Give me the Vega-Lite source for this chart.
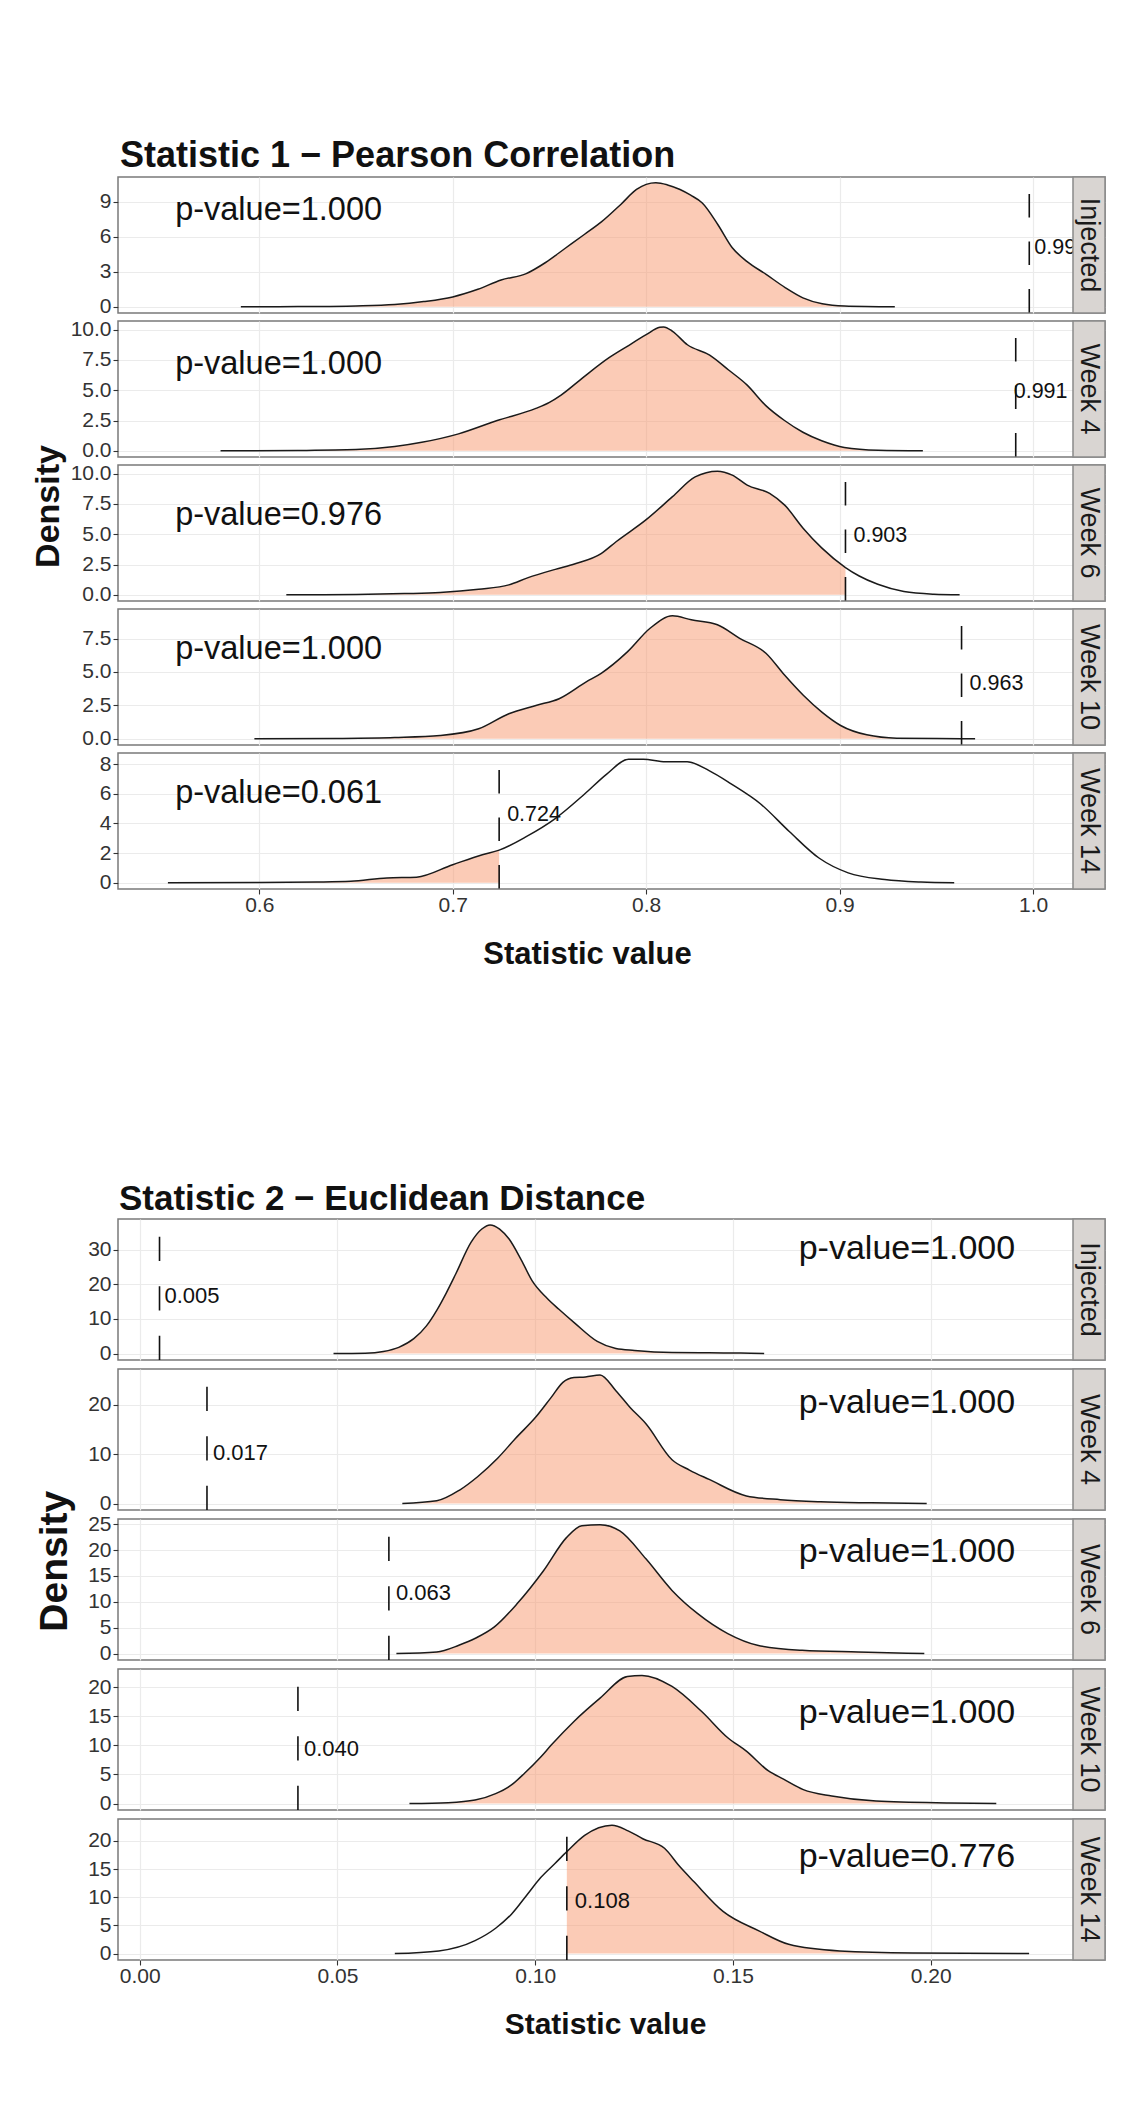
{
"$schema": "https://vega.github.io/schema/vega-lite/v6.json",
"background": "#ffffff",
"padding": {"left": 30, "top": 138, "right": 5, "bottom": 5},
"datasets": {
"ann": [
{"panel":"S1I","strip":"Injected","obs":0.998,"obs_label":"0.998","ptext":"p-value=1.000","p_x":0.61,"p_y":8.27},
{"panel":"S1W4","strip":"Week 4","obs":0.991,"obs_label":"0.991","ptext":"p-value=1.000","p_x":0.61,"p_y":7.15},
{"panel":"S1W6","strip":"Week 6","obs":0.903,"obs_label":"0.903","ptext":"p-value=0.976","p_x":0.61,"p_y":6.6},
{"panel":"S1W10","strip":"Week 10","obs":0.963,"obs_label":"0.963","ptext":"p-value=1.000","p_x":0.61,"p_y":6.7},
{"panel":"S1W14","strip":"Week 14","obs":0.724,"obs_label":"0.724","ptext":"p-value=0.061","p_x":0.61,"p_y":6.06},
{"panel":"S2I","strip":"Injected","obs":0.005,"obs_label":"0.005","ptext":"p-value=1.000","p_x":0.194,"p_y":30.1},
{"panel":"S2W4","strip":"Week 4","obs":0.017,"obs_label":"0.017","ptext":"p-value=1.000","p_x":0.194,"p_y":20.4},
{"panel":"S2W6","strip":"Week 6","obs":0.063,"obs_label":"0.063","ptext":"p-value=1.000","p_x":0.194,"p_y":19.7},
{"panel":"S2W10","strip":"Week 10","obs":0.040,"obs_label":"0.040","ptext":"p-value=1.000","p_x":0.194,"p_y":15.5},
{"panel":"S2W14","strip":"Week 14","obs":0.108,"obs_label":"0.108","ptext":"p-value=0.776","p_x":0.194,"p_y":17.2}
],
"curves": [
{"panel":"S1I","x":0.5905,"y":0},{"panel":"S1I","x":0.62,"y":0.02},{"panel":"S1I","x":0.65,"y":0.08},{"panel":"S1I","x":0.67,"y":0.2},{"panel":"S1I","x":0.685,"y":0.45},{"panel":"S1I","x":0.70,"y":0.85},{"panel":"S1I","x":0.713,"y":1.5},{"panel":"S1I","x":0.725,"y":2.3},{"panel":"S1I","x":0.738,"y":2.85},{"panel":"S1I","x":0.748,"y":3.8},{"panel":"S1I","x":0.758,"y":5.0},{"panel":"S1I","x":0.768,"y":6.2},{"panel":"S1I","x":0.777,"y":7.3},{"panel":"S1I","x":0.787,"y":8.8},{"panel":"S1I","x":0.795,"y":10.06},{"panel":"S1I","x":0.800,"y":10.5},{"panel":"S1I","x":0.805,"y":10.63},{"panel":"S1I","x":0.811,"y":10.45},{"panel":"S1I","x":0.8175,"y":10.06},{"panel":"S1I","x":0.823,"y":9.57},{"panel":"S1I","x":0.829,"y":8.9},{"panel":"S1I","x":0.837,"y":7.06},{"panel":"S1I","x":0.8445,"y":5.06},{"panel":"S1I","x":0.852,"y":3.9},{"panel":"S1I","x":0.862,"y":2.78},{"panel":"S1I","x":0.872,"y":1.63},{"panel":"S1I","x":0.881,"y":0.77},{"panel":"S1I","x":0.891,"y":0.26},{"panel":"S1I","x":0.9025,"y":0.07},{"panel":"S1I","x":0.9285,"y":0},
{"panel":"S1W4","x":0.580,"y":0},{"panel":"S1W4","x":0.62,"y":0.03},{"panel":"S1W4","x":0.65,"y":0.1},{"panel":"S1W4","x":0.67,"y":0.35},{"panel":"S1W4","x":0.684,"y":0.7},{"panel":"S1W4","x":0.703,"y":1.4},{"panel":"S1W4","x":0.723,"y":2.5},{"panel":"S1W4","x":0.743,"y":3.5},{"panel":"S1W4","x":0.750,"y":4.0},{"panel":"S1W4","x":0.756,"y":4.6},{"panel":"S1W4","x":0.767,"y":6.0},{"panel":"S1W4","x":0.781,"y":7.7},{"panel":"S1W4","x":0.790,"y":8.6},{"panel":"S1W4","x":0.800,"y":9.58},{"panel":"S1W4","x":0.807,"y":10.19},{"panel":"S1W4","x":0.809,"y":10.22},{"panel":"S1W4","x":0.8136,"y":9.86},{"panel":"S1W4","x":0.8213,"y":8.75},{"panel":"S1W4","x":0.8328,"y":7.9},{"panel":"S1W4","x":0.8426,"y":6.67},{"panel":"S1W4","x":0.8522,"y":5.42},{"panel":"S1W4","x":0.8617,"y":3.75},{"panel":"S1W4","x":0.8715,"y":2.5},{"panel":"S1W4","x":0.881,"y":1.53},{"panel":"S1W4","x":0.8907,"y":0.83},{"panel":"S1W4","x":0.9024,"y":0.28},{"panel":"S1W4","x":0.92,"y":0.05},{"panel":"S1W4","x":0.943,"y":0},
{"panel":"S1W6","x":0.614,"y":0},{"panel":"S1W6","x":0.65,"y":0.03},{"panel":"S1W6","x":0.675,"y":0.1},{"panel":"S1W6","x":0.6935,"y":0.19},{"panel":"S1W6","x":0.7134,"y":0.46},{"panel":"S1W6","x":0.729,"y":0.82},{"panel":"S1W6","x":0.739,"y":1.42},{"panel":"S1W6","x":0.753,"y":2.1},{"panel":"S1W6","x":0.7633,"y":2.56},{"panel":"S1W6","x":0.7767,"y":3.4},{"panel":"S1W6","x":0.7846,"y":4.4},{"panel":"S1W6","x":0.80,"y":6.2},{"panel":"S1W6","x":0.8136,"y":8.1},{"panel":"S1W6","x":0.8253,"y":9.73},{"panel":"S1W6","x":0.8368,"y":10.2},{"panel":"S1W6","x":0.8445,"y":9.87},{"panel":"S1W6","x":0.8522,"y":9.05},{"panel":"S1W6","x":0.8638,"y":8.37},{"panel":"S1W6","x":0.8716,"y":7.4},{"panel":"S1W6","x":0.8811,"y":5.5},{"panel":"S1W6","x":0.8907,"y":3.87},{"panel":"S1W6","x":0.903,"y":2.25},{"panel":"S1W6","x":0.9101,"y":1.55},{"panel":"S1W6","x":0.9197,"y":0.87},{"panel":"S1W6","x":0.9332,"y":0.27},{"panel":"S1W6","x":0.9487,"y":0.05},{"panel":"S1W6","x":0.962,"y":0},
{"panel":"S1W10","x":0.5975,"y":0},{"panel":"S1W10","x":0.64,"y":0.03},{"panel":"S1W10","x":0.67,"y":0.1},{"panel":"S1W10","x":0.6935,"y":0.25},{"panel":"S1W10","x":0.7134,"y":0.75},{"panel":"S1W10","x":0.729,"y":1.88},{"panel":"S1W10","x":0.743,"y":2.5},{"panel":"S1W10","x":0.755,"y":3.0},{"panel":"S1W10","x":0.769,"y":4.26},{"panel":"S1W10","x":0.7767,"y":4.9},{"panel":"S1W10","x":0.7904,"y":6.52},{"panel":"S1W10","x":0.802,"y":8.27},{"panel":"S1W10","x":0.8136,"y":9.2},{"panel":"S1W10","x":0.8233,"y":8.9},{"panel":"S1W10","x":0.8368,"y":8.53},{"panel":"S1W10","x":0.8483,"y":7.52},{"panel":"S1W10","x":0.8619,"y":6.4},{"panel":"S1W10","x":0.8715,"y":4.77},{"panel":"S1W10","x":0.8812,"y":3.26},{"panel":"S1W10","x":0.8908,"y":2.0},{"panel":"S1W10","x":0.9005,"y":1.0},{"panel":"S1W10","x":0.914,"y":0.3},{"panel":"S1W10","x":0.9295,"y":0.05},{"panel":"S1W10","x":0.963,"y":0.01},{"panel":"S1W10","x":0.970,"y":0},
{"panel":"S1W14","x":0.5528,"y":0},{"panel":"S1W14","x":0.60,"y":0.02},{"panel":"S1W14","x":0.63,"y":0.05},{"panel":"S1W14","x":0.6473,"y":0.1},{"panel":"S1W14","x":0.666,"y":0.33},{"panel":"S1W14","x":0.6813,"y":0.38},{"panel":"S1W14","x":0.70,"y":1.22},{"panel":"S1W14","x":0.7153,"y":1.89},{"panel":"S1W14","x":0.724,"y":2.2},{"panel":"S1W14","x":0.738,"y":3.11},{"panel":"S1W14","x":0.753,"y":4.33},{"panel":"S1W14","x":0.7683,"y":6.0},{"panel":"S1W14","x":0.7796,"y":7.33},{"panel":"S1W14","x":0.7909,"y":8.33},{"panel":"S1W14","x":0.7985,"y":8.33},{"panel":"S1W14","x":0.81,"y":8.16},{"panel":"S1W14","x":0.8212,"y":8.16},{"panel":"S1W14","x":0.8325,"y":7.56},{"panel":"S1W14","x":0.8439,"y":6.67},{"panel":"S1W14","x":0.859,"y":5.33},{"panel":"S1W14","x":0.8741,"y":3.44},{"panel":"S1W14","x":0.8893,"y":1.67},{"panel":"S1W14","x":0.9044,"y":0.67},{"panel":"S1W14","x":0.9233,"y":0.22},{"panel":"S1W14","x":0.942,"y":0.05},{"panel":"S1W14","x":0.9592,"y":0},
{"panel":"S2I","x":0.049,"y":0},{"panel":"S2I","x":0.057,"y":0.1},{"panel":"S2I","x":0.0616,"y":0.6},{"panel":"S2I","x":0.0655,"y":1.8},{"panel":"S2I","x":0.0693,"y":4.3},{"panel":"S2I","x":0.0725,"y":8},{"panel":"S2I","x":0.0751,"y":12.5},{"panel":"S2I","x":0.0775,"y":17.5},{"panel":"S2I","x":0.0799,"y":23},{"panel":"S2I","x":0.0838,"y":32.2},{"panel":"S2I","x":0.0865,"y":36},{"panel":"S2I","x":0.0886,"y":37.2},{"panel":"S2I","x":0.091,"y":36},{"panel":"S2I","x":0.0934,"y":33.1},{"panel":"S2I","x":0.0965,"y":27},{"panel":"S2I","x":0.0992,"y":21.1},{"panel":"S2I","x":0.103,"y":16},{"panel":"S2I","x":0.106,"y":12.8},{"panel":"S2I","x":0.110,"y":8.8},{"panel":"S2I","x":0.1157,"y":3.5},{"panel":"S2I","x":0.1204,"y":1.44},{"panel":"S2I","x":0.1251,"y":0.9},{"panel":"S2I","x":0.1346,"y":0.3},{"panel":"S2I","x":0.144,"y":0.2},{"panel":"S2I","x":0.152,"y":0.15},{"panel":"S2I","x":0.1579,"y":0},
{"panel":"S2W4","x":0.0664,"y":0},{"panel":"S2W4","x":0.0751,"y":0.56},{"panel":"S2W4","x":0.0808,"y":2.7},{"panel":"S2W4","x":0.0855,"y":5.5},{"panel":"S2W4","x":0.0905,"y":9.2},{"panel":"S2W4","x":0.095,"y":13.2},{"panel":"S2W4","x":0.1002,"y":17.6},{"panel":"S2W4","x":0.104,"y":21.5},{"panel":"S2W4","x":0.107,"y":24.6},{"panel":"S2W4","x":0.1098,"y":25.6},{"panel":"S2W4","x":0.1127,"y":25.7},{"panel":"S2W4","x":0.1164,"y":26.1},{"panel":"S2W4","x":0.1204,"y":22.9},{"panel":"S2W4","x":0.124,"y":19.5},{"panel":"S2W4","x":0.128,"y":16.2},{"panel":"S2W4","x":0.1346,"y":8.9},{"panel":"S2W4","x":0.139,"y":6.8},{"panel":"S2W4","x":0.144,"y":4.9},{"panel":"S2W4","x":0.1534,"y":1.56},{"panel":"S2W4","x":0.162,"y":0.8},{"panel":"S2W4","x":0.1722,"y":0.37},{"panel":"S2W4","x":0.185,"y":0.15},{"panel":"S2W4","x":0.199,"y":0},
{"panel":"S2W6","x":0.0649,"y":0},{"panel":"S2W6","x":0.0751,"y":0.3},{"panel":"S2W6","x":0.0807,"y":1.6},{"panel":"S2W6","x":0.085,"y":3.0},{"panel":"S2W6","x":0.0896,"y":5.1},{"panel":"S2W6","x":0.0954,"y":9.6},{"panel":"S2W6","x":0.1021,"y":16},{"panel":"S2W6","x":0.1079,"y":22.4},{"panel":"S2W6","x":0.1118,"y":24.7},{"panel":"S2W6","x":0.1164,"y":24.9},{"panel":"S2W6","x":0.1214,"y":23.7},{"panel":"S2W6","x":0.128,"y":18.3},{"panel":"S2W6","x":0.1346,"y":12.2},{"panel":"S2W6","x":0.1411,"y":7.7},{"panel":"S2W6","x":0.1487,"y":3.85},{"panel":"S2W6","x":0.1562,"y":1.6},{"panel":"S2W6","x":0.1675,"y":0.63},{"panel":"S2W6","x":0.1817,"y":0.3},{"panel":"S2W6","x":0.1984,"y":0},
{"panel":"S2W10","x":0.0682,"y":0},{"panel":"S2W10","x":0.078,"y":0.15},{"panel":"S2W10","x":0.0848,"y":0.6},{"panel":"S2W10","x":0.090,"y":1.7},{"panel":"S2W10","x":0.094,"y":3.2},{"panel":"S2W10","x":0.0973,"y":5.2},{"panel":"S2W10","x":0.1014,"y":8.0},{"panel":"S2W10","x":0.104,"y":10.0},{"panel":"S2W10","x":0.1098,"y":14.1},{"panel":"S2W10","x":0.1164,"y":18.1},{"panel":"S2W10","x":0.1233,"y":21.8},{"panel":"S2W10","x":0.127,"y":22.0},{"panel":"S2W10","x":0.1346,"y":20.1},{"panel":"S2W10","x":0.1421,"y":15.8},{"panel":"S2W10","x":0.1487,"y":11.3},{"panel":"S2W10","x":0.1534,"y":9.0},{"panel":"S2W10","x":0.159,"y":5.6},{"panel":"S2W10","x":0.1628,"y":4.2},{"panel":"S2W10","x":0.1678,"y":2.4},{"panel":"S2W10","x":0.175,"y":1.3},{"panel":"S2W10","x":0.1862,"y":0.43},{"panel":"S2W10","x":0.2046,"y":0.1},{"panel":"S2W10","x":0.2166,"y":0},
{"panel":"S2W14","x":0.0645,"y":0},{"panel":"S2W14","x":0.0756,"y":0.47},{"panel":"S2W14","x":0.0848,"y":2.3},{"panel":"S2W14","x":0.090,"y":4.5},{"panel":"S2W14","x":0.094,"y":7.0},{"panel":"S2W14","x":0.098,"y":10.5},{"panel":"S2W14","x":0.1014,"y":13.5},{"panel":"S2W14","x":0.105,"y":16.0},{"panel":"S2W14","x":0.108,"y":18.1},{"panel":"S2W14","x":0.1125,"y":21.0},{"panel":"S2W14","x":0.1194,"y":22.8},{"panel":"S2W14","x":0.1235,"y":21.8},{"panel":"S2W14","x":0.1272,"y":20.4},{"panel":"S2W14","x":0.1327,"y":18.7},{"panel":"S2W14","x":0.1365,"y":15.5},{"panel":"S2W14","x":0.1401,"y":12.8},{"panel":"S2W14","x":0.1475,"y":7.5},{"panel":"S2W14","x":0.1567,"y":4.0},{"panel":"S2W14","x":0.1641,"y":1.65},{"panel":"S2W14","x":0.177,"y":0.47},{"panel":"S2W14","x":0.1954,"y":0.1},{"panel":"S2W14","x":0.2249,"y":0}
]
},
"vconcat": [
{
"title": {"text": "Statistic 1 − Pearson Correlation", "fontSize": 36, "offset": -28, "baseline": "alphabetic", "dx": 2},
"spacing": 8, "bounds": "flush",
"vconcat": [
{"width": 987, "height": 136, "resolve": {"axis": {"x": "independent", "y": "independent"}},
"layer": [
{"data": {"name": "curves"}, "transform": [{"filter": "datum.panel === 'S1I'"}, {"lookup": "panel", "from": {"data": {"name": "ann"}, "key": "panel", "fields": ["obs"]}}, {"filter": "datum.x <= datum.obs"}],
"mark": {"type": "area", "color": "#F7976D", "opacity": 0.5, "interpolate": "monotone"},
"encoding": {"x": {"field": "x", "type": "quantitative", "scale": {"domain": [0.527, 1.03714], "nice": false, "zero": false}, "axis": {"values": [0.6, 0.7, 0.8, 0.9, 1.0], "labels": false, "ticks": false, "title": null}},
"y": {"field": "y", "type": "quantitative", "scale": {"domain": [-0.53, 11.13], "nice": false, "zero": false}, "axis": {"values": [0, 3, 6, 9], "format": "d", "title": null}}}},
{"data": {"name": "curves"}, "transform": [{"filter": "datum.panel === 'S1I'"}],
"mark": {"type": "line", "color": "#1a1a1a", "strokeWidth": 1.5, "interpolate": "monotone"},
"encoding": {"x": {"field": "x", "type": "quantitative", "scale": {"domain": [0.527, 1.03714], "nice": false, "zero": false}, "axis": {"values": [0.55, 0.65, 0.75, 0.85, 0.95], "labels": false, "ticks": false, "title": null, "gridColor": "#F3F3F3", "gridWidth": 0.9}},
"y": {"field": "y", "type": "quantitative", "scale": {"domain": [-0.53, 11.13], "nice": false, "zero": false}, "axis": {"values": [1.5, 4.5, 7.5, 10.5], "labels": false, "ticks": false, "title": null, "gridColor": "#F3F3F3", "gridWidth": 0.9}}}},
{"data": {"name": "ann"}, "transform": [{"filter": "datum.panel === 'S1I'"}],
"mark": {"type": "rule", "color": "#111111", "strokeWidth": 1.6, "strokeDash": [23.5, 24], "strokeDashOffset": 30.5},
"encoding": {"x": {"field": "obs", "type": "quantitative", "scale": {"domain": [0.527, 1.03714], "nice": false, "zero": false}, "axis": null}}},
{"data": {"name": "ann"}, "transform": [{"filter": "datum.panel === 'S1I'"}],
"mark": {"type": "text", "align": "left", "dx": 5, "dy": 3, "fontSize": 21.5, "color": "#111111"},
"encoding": {"x": {"field": "obs", "type": "quantitative", "scale": {"domain": [0.527, 1.03714], "nice": false, "zero": false}, "axis": null}, "text": {"field": "obs_label"}}},
{"data": {"name": "ann"}, "transform": [{"filter": "datum.panel === 'S1I'"}],
"mark": {"type": "text", "align": "center", "fontSize": 32.5, "color": "#111111"},
"encoding": {"x": {"field": "p_x", "type": "quantitative", "scale": {"domain": [0.527, 1.03714], "nice": false, "zero": false}, "axis": null}, "y": {"field": "p_y", "type": "quantitative", "scale": {"domain": [-0.53, 11.13], "nice": false, "zero": false}, "axis": null}, "text": {"field": "ptext"}}},
{"data": {"name": "ann"}, "transform": [{"filter": "datum.panel === 'S1I'"}],
"mark": {"type": "rect", "fill": "#D9D5D2", "stroke": "#8a8a8a", "strokeWidth": 1.5},
"encoding": {"x": {"datum": 1.0206, "type": "quantitative", "scale": {"domain": [0.527, 1.03714], "nice": false, "zero": false}, "axis": null}, "x2": {"datum": 1.03714}}},
{"data": {"name": "ann"}, "transform": [{"filter": "datum.panel === 'S1I'"}],
"mark": {"type": "text", "angle": 90, "fontSize": 27, "color": "#1a1a1a"},
"encoding": {"x": {"datum": 1.02887, "type": "quantitative", "scale": {"domain": [0.527, 1.03714], "nice": false, "zero": false}, "axis": null}, "text": {"field": "strip"}}}
]},
{"width": 987, "height": 136, "resolve": {"axis": {"x": "independent", "y": "independent"}},
"layer": [
{"data": {"name": "curves"}, "transform": [{"filter": "datum.panel === 'S1W4'"}, {"lookup": "panel", "from": {"data": {"name": "ann"}, "key": "panel", "fields": ["obs"]}}, {"filter": "datum.x <= datum.obs"}],
"mark": {"type": "area", "color": "#F7976D", "opacity": 0.5, "interpolate": "monotone"},
"encoding": {"x": {"field": "x", "type": "quantitative", "scale": {"domain": [0.527, 1.03714], "nice": false, "zero": false}, "axis": {"values": [0.6, 0.7, 0.8, 0.9, 1.0], "labels": false, "ticks": false, "title": null}},
"y": {"field": "y", "type": "quantitative", "scale": {"domain": [-0.51, 10.71], "nice": false, "zero": false}, "axis": {"values": [0, 2.5, 5, 7.5, 10], "format": ".1f", "title": null}}}},
{"data": {"name": "curves"}, "transform": [{"filter": "datum.panel === 'S1W4'"}],
"mark": {"type": "line", "color": "#1a1a1a", "strokeWidth": 1.5, "interpolate": "monotone"},
"encoding": {"x": {"field": "x", "type": "quantitative", "scale": {"domain": [0.527, 1.03714], "nice": false, "zero": false}, "axis": {"values": [0.55, 0.65, 0.75, 0.85, 0.95], "labels": false, "ticks": false, "title": null, "gridColor": "#F3F3F3", "gridWidth": 0.9}},
"y": {"field": "y", "type": "quantitative", "scale": {"domain": [-0.51, 10.71], "nice": false, "zero": false}, "axis": {"values": [1.25, 3.75, 6.25, 8.75], "labels": false, "ticks": false, "title": null, "gridColor": "#F3F3F3", "gridWidth": 0.9}}}},
{"data": {"name": "ann"}, "transform": [{"filter": "datum.panel === 'S1W4'"}],
"mark": {"type": "rule", "color": "#111111", "strokeWidth": 1.6, "strokeDash": [23.5, 24], "strokeDashOffset": 30.5},
"encoding": {"x": {"field": "obs", "type": "quantitative", "scale": {"domain": [0.527, 1.03714], "nice": false, "zero": false}, "axis": null}}},
{"data": {"name": "ann"}, "transform": [{"filter": "datum.panel === 'S1W4'"}],
"mark": {"type": "text", "align": "left", "dx": -2, "dy": 3, "fontSize": 21.5, "color": "#111111"},
"encoding": {"x": {"field": "obs", "type": "quantitative", "scale": {"domain": [0.527, 1.03714], "nice": false, "zero": false}, "axis": null}, "text": {"field": "obs_label"}}},
{"data": {"name": "ann"}, "transform": [{"filter": "datum.panel === 'S1W4'"}],
"mark": {"type": "text", "align": "center", "fontSize": 32.5, "color": "#111111"},
"encoding": {"x": {"field": "p_x", "type": "quantitative", "scale": {"domain": [0.527, 1.03714], "nice": false, "zero": false}, "axis": null}, "y": {"field": "p_y", "type": "quantitative", "scale": {"domain": [-0.51, 10.71], "nice": false, "zero": false}, "axis": null}, "text": {"field": "ptext"}}},
{"data": {"name": "ann"}, "transform": [{"filter": "datum.panel === 'S1W4'"}],
"mark": {"type": "rect", "fill": "#D9D5D2", "stroke": "#8a8a8a", "strokeWidth": 1.5},
"encoding": {"x": {"datum": 1.0206, "type": "quantitative", "scale": {"domain": [0.527, 1.03714], "nice": false, "zero": false}, "axis": null}, "x2": {"datum": 1.03714}}},
{"data": {"name": "ann"}, "transform": [{"filter": "datum.panel === 'S1W4'"}],
"mark": {"type": "text", "angle": 90, "fontSize": 27, "color": "#1a1a1a"},
"encoding": {"x": {"datum": 1.02887, "type": "quantitative", "scale": {"domain": [0.527, 1.03714], "nice": false, "zero": false}, "axis": null}, "text": {"field": "strip"}}}
]},
{"width": 987, "height": 136, "resolve": {"axis": {"x": "independent", "y": "independent"}},
"layer": [
{"data": {"name": "curves"}, "transform": [{"filter": "datum.panel === 'S1W6'"}, {"lookup": "panel", "from": {"data": {"name": "ann"}, "key": "panel", "fields": ["obs"]}}, {"filter": "datum.x <= datum.obs"}],
"mark": {"type": "area", "color": "#F7976D", "opacity": 0.5, "interpolate": "monotone"},
"encoding": {"x": {"field": "x", "type": "quantitative", "scale": {"domain": [0.527, 1.03714], "nice": false, "zero": false}, "axis": {"values": [0.6, 0.7, 0.8, 0.9, 1.0], "labels": false, "ticks": false, "title": null}},
"y": {"field": "y", "type": "quantitative", "scale": {"domain": [-0.51, 10.71], "nice": false, "zero": false}, "axis": {"values": [0, 2.5, 5, 7.5, 10], "format": ".1f", "title": "Density", "titleFontSize": 34, "titleX": -70, "titleY": 41, "titleAngle": 270, "titleAlign": "center", "titleBaseline": "middle"}}}},
{"data": {"name": "curves"}, "transform": [{"filter": "datum.panel === 'S1W6'"}],
"mark": {"type": "line", "color": "#1a1a1a", "strokeWidth": 1.5, "interpolate": "monotone"},
"encoding": {"x": {"field": "x", "type": "quantitative", "scale": {"domain": [0.527, 1.03714], "nice": false, "zero": false}, "axis": {"values": [0.55, 0.65, 0.75, 0.85, 0.95], "labels": false, "ticks": false, "title": null, "gridColor": "#F3F3F3", "gridWidth": 0.9}},
"y": {"field": "y", "type": "quantitative", "scale": {"domain": [-0.51, 10.71], "nice": false, "zero": false}, "axis": {"values": [1.25, 3.75, 6.25, 8.75], "labels": false, "ticks": false, "title": null, "gridColor": "#F3F3F3", "gridWidth": 0.9}}}},
{"data": {"name": "ann"}, "transform": [{"filter": "datum.panel === 'S1W6'"}],
"mark": {"type": "rule", "color": "#111111", "strokeWidth": 1.6, "strokeDash": [23.5, 24], "strokeDashOffset": 30.5},
"encoding": {"x": {"field": "obs", "type": "quantitative", "scale": {"domain": [0.527, 1.03714], "nice": false, "zero": false}, "axis": null}}},
{"data": {"name": "ann"}, "transform": [{"filter": "datum.panel === 'S1W6'"}],
"mark": {"type": "text", "align": "left", "dx": 8, "dy": 3, "fontSize": 21.5, "color": "#111111"},
"encoding": {"x": {"field": "obs", "type": "quantitative", "scale": {"domain": [0.527, 1.03714], "nice": false, "zero": false}, "axis": null}, "text": {"field": "obs_label"}}},
{"data": {"name": "ann"}, "transform": [{"filter": "datum.panel === 'S1W6'"}],
"mark": {"type": "text", "align": "center", "fontSize": 32.5, "color": "#111111"},
"encoding": {"x": {"field": "p_x", "type": "quantitative", "scale": {"domain": [0.527, 1.03714], "nice": false, "zero": false}, "axis": null}, "y": {"field": "p_y", "type": "quantitative", "scale": {"domain": [-0.51, 10.71], "nice": false, "zero": false}, "axis": null}, "text": {"field": "ptext"}}},
{"data": {"name": "ann"}, "transform": [{"filter": "datum.panel === 'S1W6'"}],
"mark": {"type": "rect", "fill": "#D9D5D2", "stroke": "#8a8a8a", "strokeWidth": 1.5},
"encoding": {"x": {"datum": 1.0206, "type": "quantitative", "scale": {"domain": [0.527, 1.03714], "nice": false, "zero": false}, "axis": null}, "x2": {"datum": 1.03714}}},
{"data": {"name": "ann"}, "transform": [{"filter": "datum.panel === 'S1W6'"}],
"mark": {"type": "text", "angle": 90, "fontSize": 27, "color": "#1a1a1a"},
"encoding": {"x": {"datum": 1.02887, "type": "quantitative", "scale": {"domain": [0.527, 1.03714], "nice": false, "zero": false}, "axis": null}, "text": {"field": "strip"}}}
]},
{"width": 987, "height": 136, "resolve": {"axis": {"x": "independent", "y": "independent"}},
"layer": [
{"data": {"name": "curves"}, "transform": [{"filter": "datum.panel === 'S1W10'"}, {"lookup": "panel", "from": {"data": {"name": "ann"}, "key": "panel", "fields": ["obs"]}}, {"filter": "datum.x <= datum.obs"}],
"mark": {"type": "area", "color": "#F7976D", "opacity": 0.5, "interpolate": "monotone"},
"encoding": {"x": {"field": "x", "type": "quantitative", "scale": {"domain": [0.527, 1.03714], "nice": false, "zero": false}, "axis": {"values": [0.6, 0.7, 0.8, 0.9, 1.0], "labels": false, "ticks": false, "title": null}},
"y": {"field": "y", "type": "quantitative", "scale": {"domain": [-0.46, 9.71], "nice": false, "zero": false}, "axis": {"values": [0, 2.5, 5, 7.5], "format": ".1f", "title": null}}}},
{"data": {"name": "curves"}, "transform": [{"filter": "datum.panel === 'S1W10'"}],
"mark": {"type": "line", "color": "#1a1a1a", "strokeWidth": 1.5, "interpolate": "monotone"},
"encoding": {"x": {"field": "x", "type": "quantitative", "scale": {"domain": [0.527, 1.03714], "nice": false, "zero": false}, "axis": {"values": [0.55, 0.65, 0.75, 0.85, 0.95], "labels": false, "ticks": false, "title": null, "gridColor": "#F3F3F3", "gridWidth": 0.9}},
"y": {"field": "y", "type": "quantitative", "scale": {"domain": [-0.46, 9.71], "nice": false, "zero": false}, "axis": {"values": [1.25, 3.75, 6.25, 8.75], "labels": false, "ticks": false, "title": null, "gridColor": "#F3F3F3", "gridWidth": 0.9}}}},
{"data": {"name": "ann"}, "transform": [{"filter": "datum.panel === 'S1W10'"}],
"mark": {"type": "rule", "color": "#111111", "strokeWidth": 1.6, "strokeDash": [23.5, 24], "strokeDashOffset": 30.5},
"encoding": {"x": {"field": "obs", "type": "quantitative", "scale": {"domain": [0.527, 1.03714], "nice": false, "zero": false}, "axis": null}}},
{"data": {"name": "ann"}, "transform": [{"filter": "datum.panel === 'S1W10'"}],
"mark": {"type": "text", "align": "left", "dx": 8, "dy": 7, "fontSize": 21.5, "color": "#111111"},
"encoding": {"x": {"field": "obs", "type": "quantitative", "scale": {"domain": [0.527, 1.03714], "nice": false, "zero": false}, "axis": null}, "text": {"field": "obs_label"}}},
{"data": {"name": "ann"}, "transform": [{"filter": "datum.panel === 'S1W10'"}],
"mark": {"type": "text", "align": "center", "fontSize": 32.5, "color": "#111111"},
"encoding": {"x": {"field": "p_x", "type": "quantitative", "scale": {"domain": [0.527, 1.03714], "nice": false, "zero": false}, "axis": null}, "y": {"field": "p_y", "type": "quantitative", "scale": {"domain": [-0.46, 9.71], "nice": false, "zero": false}, "axis": null}, "text": {"field": "ptext"}}},
{"data": {"name": "ann"}, "transform": [{"filter": "datum.panel === 'S1W10'"}],
"mark": {"type": "rect", "fill": "#D9D5D2", "stroke": "#8a8a8a", "strokeWidth": 1.5},
"encoding": {"x": {"datum": 1.0206, "type": "quantitative", "scale": {"domain": [0.527, 1.03714], "nice": false, "zero": false}, "axis": null}, "x2": {"datum": 1.03714}}},
{"data": {"name": "ann"}, "transform": [{"filter": "datum.panel === 'S1W10'"}],
"mark": {"type": "text", "angle": 90, "fontSize": 27, "color": "#1a1a1a"},
"encoding": {"x": {"datum": 1.02887, "type": "quantitative", "scale": {"domain": [0.527, 1.03714], "nice": false, "zero": false}, "axis": null}, "text": {"field": "strip"}}}
]},
{"width": 987, "height": 136, "resolve": {"axis": {"x": "independent", "y": "independent"}},
"layer": [
{"data": {"name": "curves"}, "transform": [{"filter": "datum.panel === 'S1W14'"}, {"lookup": "panel", "from": {"data": {"name": "ann"}, "key": "panel", "fields": ["obs"]}}, {"filter": "datum.x <= datum.obs"}],
"mark": {"type": "area", "color": "#F7976D", "opacity": 0.5, "interpolate": "monotone"},
"encoding": {"x": {"field": "x", "type": "quantitative", "scale": {"domain": [0.527, 1.03714], "nice": false, "zero": false}, "axis": {"values": [0.6, 0.7, 0.8, 0.9, 1.0], "format": ".1f", "title": "Statistic value", "titleFontSize": 31, "titlePadding": 24, "titleX": 469, "labelPadding": 0}},
"y": {"field": "y", "type": "quantitative", "scale": {"domain": [-0.42, 8.75], "nice": false, "zero": false}, "axis": {"values": [0, 2, 4, 6, 8], "format": "d", "title": null}}}},
{"data": {"name": "curves"}, "transform": [{"filter": "datum.panel === 'S1W14'"}],
"mark": {"type": "line", "color": "#1a1a1a", "strokeWidth": 1.5, "interpolate": "monotone"},
"encoding": {"x": {"field": "x", "type": "quantitative", "scale": {"domain": [0.527, 1.03714], "nice": false, "zero": false}, "axis": {"values": [0.55, 0.65, 0.75, 0.85, 0.95], "labels": false, "ticks": false, "title": null, "gridColor": "#F3F3F3", "gridWidth": 0.9}},
"y": {"field": "y", "type": "quantitative", "scale": {"domain": [-0.42, 8.75], "nice": false, "zero": false}, "axis": {"values": [1, 3, 5, 7], "labels": false, "ticks": false, "title": null, "gridColor": "#F3F3F3", "gridWidth": 0.9}}}},
{"data": {"name": "ann"}, "transform": [{"filter": "datum.panel === 'S1W14'"}],
"mark": {"type": "rule", "color": "#111111", "strokeWidth": 1.6, "strokeDash": [23.5, 24], "strokeDashOffset": 30.5},
"encoding": {"x": {"field": "obs", "type": "quantitative", "scale": {"domain": [0.527, 1.03714], "nice": false, "zero": false}, "axis": null}}},
{"data": {"name": "ann"}, "transform": [{"filter": "datum.panel === 'S1W14'"}],
"mark": {"type": "text", "align": "left", "dx": 8, "dy": -6, "fontSize": 21.5, "color": "#111111"},
"encoding": {"x": {"field": "obs", "type": "quantitative", "scale": {"domain": [0.527, 1.03714], "nice": false, "zero": false}, "axis": null}, "text": {"field": "obs_label"}}},
{"data": {"name": "ann"}, "transform": [{"filter": "datum.panel === 'S1W14'"}],
"mark": {"type": "text", "align": "center", "fontSize": 32.5, "color": "#111111"},
"encoding": {"x": {"field": "p_x", "type": "quantitative", "scale": {"domain": [0.527, 1.03714], "nice": false, "zero": false}, "axis": null}, "y": {"field": "p_y", "type": "quantitative", "scale": {"domain": [-0.42, 8.75], "nice": false, "zero": false}, "axis": null}, "text": {"field": "ptext"}}},
{"data": {"name": "ann"}, "transform": [{"filter": "datum.panel === 'S1W14'"}],
"mark": {"type": "rect", "fill": "#D9D5D2", "stroke": "#8a8a8a", "strokeWidth": 1.5},
"encoding": {"x": {"datum": 1.0206, "type": "quantitative", "scale": {"domain": [0.527, 1.03714], "nice": false, "zero": false}, "axis": null}, "x2": {"datum": 1.03714}}},
{"data": {"name": "ann"}, "transform": [{"filter": "datum.panel === 'S1W14'"}],
"mark": {"type": "text", "angle": 90, "fontSize": 27, "color": "#1a1a1a"},
"encoding": {"x": {"datum": 1.02887, "type": "quantitative", "scale": {"domain": [0.527, 1.03714], "nice": false, "zero": false}, "axis": null}, "text": {"field": "strip"}}}
]}
]
},
{
"title": {"text": "Statistic 2 − Euclidean Distance", "fontSize": 35, "offset": -28, "baseline": "alphabetic", "dx": 1},
"spacing": 9, "bounds": "flush",
"vconcat": [
{"width": 987, "height": 141, "resolve": {"axis": {"x": "independent", "y": "independent"}},
"layer": [
{"data": {"name": "curves"}, "transform": [{"filter": "datum.panel === 'S2I'"}, {"lookup": "panel", "from": {"data": {"name": "ann"}, "key": "panel", "fields": ["obs"]}}, {"filter": "datum.x >= datum.obs"}],
"mark": {"type": "area", "color": "#F7976D", "opacity": 0.5, "interpolate": "monotone"},
"encoding": {"x": {"field": "x", "type": "quantitative", "scale": {"domain": [-0.0055, 0.24409], "nice": false, "zero": false}, "axis": {"values": [0, 0.05, 0.1, 0.15, 0.2], "labels": false, "ticks": false, "title": null}},
"y": {"field": "y", "type": "quantitative", "scale": {"domain": [-1.86, 38.9], "nice": false, "zero": false}, "axis": {"values": [0, 10, 20, 30], "format": "d", "title": null}}}},
{"data": {"name": "curves"}, "transform": [{"filter": "datum.panel === 'S2I'"}],
"mark": {"type": "line", "color": "#1a1a1a", "strokeWidth": 1.5, "interpolate": "monotone"},
"encoding": {"x": {"field": "x", "type": "quantitative", "scale": {"domain": [-0.0055, 0.24409], "nice": false, "zero": false}, "axis": {"values": [0.025, 0.075, 0.125, 0.175, 0.225], "labels": false, "ticks": false, "title": null, "gridColor": "#F3F3F3", "gridWidth": 0.9}},
"y": {"field": "y", "type": "quantitative", "scale": {"domain": [-1.86, 38.9], "nice": false, "zero": false}, "axis": {"values": [5, 15, 25, 35], "labels": false, "ticks": false, "title": null, "gridColor": "#F3F3F3", "gridWidth": 0.9}}}},
{"data": {"name": "ann"}, "transform": [{"filter": "datum.panel === 'S2I'"}],
"mark": {"type": "rule", "color": "#111111", "strokeWidth": 1.6, "strokeDash": [24.3, 25.2], "strokeDashOffset": 31.8},
"encoding": {"x": {"field": "obs", "type": "quantitative", "scale": {"domain": [-0.0055, 0.24409], "nice": false, "zero": false}, "axis": null}}},
{"data": {"name": "ann"}, "transform": [{"filter": "datum.panel === 'S2I'"}],
"mark": {"type": "text", "align": "left", "dx": 5, "dy": 6, "fontSize": 22, "color": "#111111"},
"encoding": {"x": {"field": "obs", "type": "quantitative", "scale": {"domain": [-0.0055, 0.24409], "nice": false, "zero": false}, "axis": null}, "text": {"field": "obs_label"}}},
{"data": {"name": "ann"}, "transform": [{"filter": "datum.panel === 'S2I'"}],
"mark": {"type": "text", "align": "center", "fontSize": 34, "color": "#111111"},
"encoding": {"x": {"field": "p_x", "type": "quantitative", "scale": {"domain": [-0.0055, 0.24409], "nice": false, "zero": false}, "axis": null}, "y": {"field": "p_y", "type": "quantitative", "scale": {"domain": [-1.86, 38.9], "nice": false, "zero": false}, "axis": null}, "text": {"field": "ptext"}}},
{"data": {"name": "ann"}, "transform": [{"filter": "datum.panel === 'S2I'"}],
"mark": {"type": "rect", "fill": "#D9D5D2", "stroke": "#8a8a8a", "strokeWidth": 1.5},
"encoding": {"x": {"datum": 0.236, "type": "quantitative", "scale": {"domain": [-0.0055, 0.24409], "nice": false, "zero": false}, "axis": null}, "x2": {"datum": 0.24409}}},
{"data": {"name": "ann"}, "transform": [{"filter": "datum.panel === 'S2I'"}],
"mark": {"type": "text", "angle": 90, "fontSize": 27, "color": "#1a1a1a"},
"encoding": {"x": {"datum": 0.24005, "type": "quantitative", "scale": {"domain": [-0.0055, 0.24409], "nice": false, "zero": false}, "axis": null}, "text": {"field": "strip"}}}
]},
{"width": 987, "height": 141, "resolve": {"axis": {"x": "independent", "y": "independent"}},
"layer": [
{"data": {"name": "curves"}, "transform": [{"filter": "datum.panel === 'S2W4'"}, {"lookup": "panel", "from": {"data": {"name": "ann"}, "key": "panel", "fields": ["obs"]}}, {"filter": "datum.x >= datum.obs"}],
"mark": {"type": "area", "color": "#F7976D", "opacity": 0.5, "interpolate": "monotone"},
"encoding": {"x": {"field": "x", "type": "quantitative", "scale": {"domain": [-0.0055, 0.24409], "nice": false, "zero": false}, "axis": {"values": [0, 0.05, 0.1, 0.15, 0.2], "labels": false, "ticks": false, "title": null}},
"y": {"field": "y", "type": "quantitative", "scale": {"domain": [-1.3, 27.3], "nice": false, "zero": false}, "axis": {"values": [0, 10, 20], "format": "d", "title": null}}}},
{"data": {"name": "curves"}, "transform": [{"filter": "datum.panel === 'S2W4'"}],
"mark": {"type": "line", "color": "#1a1a1a", "strokeWidth": 1.5, "interpolate": "monotone"},
"encoding": {"x": {"field": "x", "type": "quantitative", "scale": {"domain": [-0.0055, 0.24409], "nice": false, "zero": false}, "axis": {"values": [0.025, 0.075, 0.125, 0.175, 0.225], "labels": false, "ticks": false, "title": null, "gridColor": "#F3F3F3", "gridWidth": 0.9}},
"y": {"field": "y", "type": "quantitative", "scale": {"domain": [-1.3, 27.3], "nice": false, "zero": false}, "axis": {"values": [5, 15, 25], "labels": false, "ticks": false, "title": null, "gridColor": "#F3F3F3", "gridWidth": 0.9}}}},
{"data": {"name": "ann"}, "transform": [{"filter": "datum.panel === 'S2W4'"}],
"mark": {"type": "rule", "color": "#111111", "strokeWidth": 1.6, "strokeDash": [24.3, 25.2], "strokeDashOffset": 31.8},
"encoding": {"x": {"field": "obs", "type": "quantitative", "scale": {"domain": [-0.0055, 0.24409], "nice": false, "zero": false}, "axis": null}}},
{"data": {"name": "ann"}, "transform": [{"filter": "datum.panel === 'S2W4'"}],
"mark": {"type": "text", "align": "left", "dx": 6, "dy": 13, "fontSize": 22, "color": "#111111"},
"encoding": {"x": {"field": "obs", "type": "quantitative", "scale": {"domain": [-0.0055, 0.24409], "nice": false, "zero": false}, "axis": null}, "text": {"field": "obs_label"}}},
{"data": {"name": "ann"}, "transform": [{"filter": "datum.panel === 'S2W4'"}],
"mark": {"type": "text", "align": "center", "fontSize": 34, "color": "#111111"},
"encoding": {"x": {"field": "p_x", "type": "quantitative", "scale": {"domain": [-0.0055, 0.24409], "nice": false, "zero": false}, "axis": null}, "y": {"field": "p_y", "type": "quantitative", "scale": {"domain": [-1.3, 27.3], "nice": false, "zero": false}, "axis": null}, "text": {"field": "ptext"}}},
{"data": {"name": "ann"}, "transform": [{"filter": "datum.panel === 'S2W4'"}],
"mark": {"type": "rect", "fill": "#D9D5D2", "stroke": "#8a8a8a", "strokeWidth": 1.5},
"encoding": {"x": {"datum": 0.236, "type": "quantitative", "scale": {"domain": [-0.0055, 0.24409], "nice": false, "zero": false}, "axis": null}, "x2": {"datum": 0.24409}}},
{"data": {"name": "ann"}, "transform": [{"filter": "datum.panel === 'S2W4'"}],
"mark": {"type": "text", "angle": 90, "fontSize": 27, "color": "#1a1a1a"},
"encoding": {"x": {"datum": 0.24005, "type": "quantitative", "scale": {"domain": [-0.0055, 0.24409], "nice": false, "zero": false}, "axis": null}, "text": {"field": "strip"}}}
]},
{"width": 987, "height": 141, "resolve": {"axis": {"x": "independent", "y": "independent"}},
"layer": [
{"data": {"name": "curves"}, "transform": [{"filter": "datum.panel === 'S2W6'"}, {"lookup": "panel", "from": {"data": {"name": "ann"}, "key": "panel", "fields": ["obs"]}}, {"filter": "datum.x >= datum.obs"}],
"mark": {"type": "area", "color": "#F7976D", "opacity": 0.5, "interpolate": "monotone"},
"encoding": {"x": {"field": "x", "type": "quantitative", "scale": {"domain": [-0.0055, 0.24409], "nice": false, "zero": false}, "axis": {"values": [0, 0.05, 0.1, 0.15, 0.2], "labels": false, "ticks": false, "title": null}},
"y": {"field": "y", "type": "quantitative", "scale": {"domain": [-1.25, 26.0], "nice": false, "zero": false}, "axis": {"values": [0, 5, 10, 15, 20, 25], "format": "d", "title": "Density", "titleFontSize": 39, "titleX": -64, "titleY": 41.7, "titleAngle": 270, "titleAlign": "center", "titleBaseline": "middle"}}}},
{"data": {"name": "curves"}, "transform": [{"filter": "datum.panel === 'S2W6'"}],
"mark": {"type": "line", "color": "#1a1a1a", "strokeWidth": 1.5, "interpolate": "monotone"},
"encoding": {"x": {"field": "x", "type": "quantitative", "scale": {"domain": [-0.0055, 0.24409], "nice": false, "zero": false}, "axis": {"values": [0.025, 0.075, 0.125, 0.175, 0.225], "labels": false, "ticks": false, "title": null, "gridColor": "#F3F3F3", "gridWidth": 0.9}},
"y": {"field": "y", "type": "quantitative", "scale": {"domain": [-1.25, 26.0], "nice": false, "zero": false}, "axis": {"values": [2.5, 7.5, 12.5, 17.5, 22.5], "labels": false, "ticks": false, "title": null, "gridColor": "#F3F3F3", "gridWidth": 0.9}}}},
{"data": {"name": "ann"}, "transform": [{"filter": "datum.panel === 'S2W6'"}],
"mark": {"type": "rule", "color": "#111111", "strokeWidth": 1.6, "strokeDash": [24.3, 25.2], "strokeDashOffset": 31.8},
"encoding": {"x": {"field": "obs", "type": "quantitative", "scale": {"domain": [-0.0055, 0.24409], "nice": false, "zero": false}, "axis": null}}},
{"data": {"name": "ann"}, "transform": [{"filter": "datum.panel === 'S2W6'"}],
"mark": {"type": "text", "align": "left", "dx": 7, "dy": 3, "fontSize": 22, "color": "#111111"},
"encoding": {"x": {"field": "obs", "type": "quantitative", "scale": {"domain": [-0.0055, 0.24409], "nice": false, "zero": false}, "axis": null}, "text": {"field": "obs_label"}}},
{"data": {"name": "ann"}, "transform": [{"filter": "datum.panel === 'S2W6'"}],
"mark": {"type": "text", "align": "center", "fontSize": 34, "color": "#111111"},
"encoding": {"x": {"field": "p_x", "type": "quantitative", "scale": {"domain": [-0.0055, 0.24409], "nice": false, "zero": false}, "axis": null}, "y": {"field": "p_y", "type": "quantitative", "scale": {"domain": [-1.25, 26.0], "nice": false, "zero": false}, "axis": null}, "text": {"field": "ptext"}}},
{"data": {"name": "ann"}, "transform": [{"filter": "datum.panel === 'S2W6'"}],
"mark": {"type": "rect", "fill": "#D9D5D2", "stroke": "#8a8a8a", "strokeWidth": 1.5},
"encoding": {"x": {"datum": 0.236, "type": "quantitative", "scale": {"domain": [-0.0055, 0.24409], "nice": false, "zero": false}, "axis": null}, "x2": {"datum": 0.24409}}},
{"data": {"name": "ann"}, "transform": [{"filter": "datum.panel === 'S2W6'"}],
"mark": {"type": "text", "angle": 90, "fontSize": 27, "color": "#1a1a1a"},
"encoding": {"x": {"datum": 0.24005, "type": "quantitative", "scale": {"domain": [-0.0055, 0.24409], "nice": false, "zero": false}, "axis": null}, "text": {"field": "strip"}}}
]},
{"width": 987, "height": 141, "resolve": {"axis": {"x": "independent", "y": "independent"}},
"layer": [
{"data": {"name": "curves"}, "transform": [{"filter": "datum.panel === 'S2W10'"}, {"lookup": "panel", "from": {"data": {"name": "ann"}, "key": "panel", "fields": ["obs"]}}, {"filter": "datum.x >= datum.obs"}],
"mark": {"type": "area", "color": "#F7976D", "opacity": 0.5, "interpolate": "monotone"},
"encoding": {"x": {"field": "x", "type": "quantitative", "scale": {"domain": [-0.0055, 0.24409], "nice": false, "zero": false}, "axis": {"values": [0, 0.05, 0.1, 0.15, 0.2], "labels": false, "ticks": false, "title": null}},
"y": {"field": "y", "type": "quantitative", "scale": {"domain": [-1.1, 23.1], "nice": false, "zero": false}, "axis": {"values": [0, 5, 10, 15, 20], "format": "d", "title": null}}}},
{"data": {"name": "curves"}, "transform": [{"filter": "datum.panel === 'S2W10'"}],
"mark": {"type": "line", "color": "#1a1a1a", "strokeWidth": 1.5, "interpolate": "monotone"},
"encoding": {"x": {"field": "x", "type": "quantitative", "scale": {"domain": [-0.0055, 0.24409], "nice": false, "zero": false}, "axis": {"values": [0.025, 0.075, 0.125, 0.175, 0.225], "labels": false, "ticks": false, "title": null, "gridColor": "#F3F3F3", "gridWidth": 0.9}},
"y": {"field": "y", "type": "quantitative", "scale": {"domain": [-1.1, 23.1], "nice": false, "zero": false}, "axis": {"values": [2.5, 7.5, 12.5, 17.5, 22.5], "labels": false, "ticks": false, "title": null, "gridColor": "#F3F3F3", "gridWidth": 0.9}}}},
{"data": {"name": "ann"}, "transform": [{"filter": "datum.panel === 'S2W10'"}],
"mark": {"type": "rule", "color": "#111111", "strokeWidth": 1.6, "strokeDash": [24.3, 25.2], "strokeDashOffset": 31.8},
"encoding": {"x": {"field": "obs", "type": "quantitative", "scale": {"domain": [-0.0055, 0.24409], "nice": false, "zero": false}, "axis": null}}},
{"data": {"name": "ann"}, "transform": [{"filter": "datum.panel === 'S2W10'"}],
"mark": {"type": "text", "align": "left", "dx": 6, "dy": 9, "fontSize": 22, "color": "#111111"},
"encoding": {"x": {"field": "obs", "type": "quantitative", "scale": {"domain": [-0.0055, 0.24409], "nice": false, "zero": false}, "axis": null}, "text": {"field": "obs_label"}}},
{"data": {"name": "ann"}, "transform": [{"filter": "datum.panel === 'S2W10'"}],
"mark": {"type": "text", "align": "center", "fontSize": 34, "color": "#111111"},
"encoding": {"x": {"field": "p_x", "type": "quantitative", "scale": {"domain": [-0.0055, 0.24409], "nice": false, "zero": false}, "axis": null}, "y": {"field": "p_y", "type": "quantitative", "scale": {"domain": [-1.1, 23.1], "nice": false, "zero": false}, "axis": null}, "text": {"field": "ptext"}}},
{"data": {"name": "ann"}, "transform": [{"filter": "datum.panel === 'S2W10'"}],
"mark": {"type": "rect", "fill": "#D9D5D2", "stroke": "#8a8a8a", "strokeWidth": 1.5},
"encoding": {"x": {"datum": 0.236, "type": "quantitative", "scale": {"domain": [-0.0055, 0.24409], "nice": false, "zero": false}, "axis": null}, "x2": {"datum": 0.24409}}},
{"data": {"name": "ann"}, "transform": [{"filter": "datum.panel === 'S2W10'"}],
"mark": {"type": "text", "angle": 90, "fontSize": 27, "color": "#1a1a1a"},
"encoding": {"x": {"datum": 0.24005, "type": "quantitative", "scale": {"domain": [-0.0055, 0.24409], "nice": false, "zero": false}, "axis": null}, "text": {"field": "strip"}}}
]},
{"width": 987, "height": 141, "resolve": {"axis": {"x": "independent", "y": "independent"}},
"layer": [
{"data": {"name": "curves"}, "transform": [{"filter": "datum.panel === 'S2W14'"}, {"lookup": "panel", "from": {"data": {"name": "ann"}, "key": "panel", "fields": ["obs"]}}, {"filter": "datum.x >= datum.obs"}],
"mark": {"type": "area", "color": "#F7976D", "opacity": 0.5, "interpolate": "monotone"},
"encoding": {"x": {"field": "x", "type": "quantitative", "scale": {"domain": [-0.0055, 0.24409], "nice": false, "zero": false}, "axis": {"values": [0, 0.05, 0.1, 0.15, 0.2], "format": ".2f", "title": "Statistic value", "titleFontSize": 30, "titlePadding": 23, "titleX": 487, "labelPadding": 0}},
"y": {"field": "y", "type": "quantitative", "scale": {"domain": [-1.14, 23.9], "nice": false, "zero": false}, "axis": {"values": [0, 5, 10, 15, 20], "format": "d", "title": null}}}},
{"data": {"name": "curves"}, "transform": [{"filter": "datum.panel === 'S2W14'"}],
"mark": {"type": "line", "color": "#1a1a1a", "strokeWidth": 1.5, "interpolate": "monotone"},
"encoding": {"x": {"field": "x", "type": "quantitative", "scale": {"domain": [-0.0055, 0.24409], "nice": false, "zero": false}, "axis": {"values": [0.025, 0.075, 0.125, 0.175, 0.225], "labels": false, "ticks": false, "title": null, "gridColor": "#F3F3F3", "gridWidth": 0.9}},
"y": {"field": "y", "type": "quantitative", "scale": {"domain": [-1.14, 23.9], "nice": false, "zero": false}, "axis": {"values": [2.5, 7.5, 12.5, 17.5, 22.5], "labels": false, "ticks": false, "title": null, "gridColor": "#F3F3F3", "gridWidth": 0.9}}}},
{"data": {"name": "ann"}, "transform": [{"filter": "datum.panel === 'S2W14'"}],
"mark": {"type": "rule", "color": "#111111", "strokeWidth": 1.6, "strokeDash": [24.3, 25.2], "strokeDashOffset": 31.8},
"encoding": {"x": {"field": "obs", "type": "quantitative", "scale": {"domain": [-0.0055, 0.24409], "nice": false, "zero": false}, "axis": null}}},
{"data": {"name": "ann"}, "transform": [{"filter": "datum.panel === 'S2W14'"}],
"mark": {"type": "text", "align": "left", "dx": 8, "dy": 11, "fontSize": 22, "color": "#111111"},
"encoding": {"x": {"field": "obs", "type": "quantitative", "scale": {"domain": [-0.0055, 0.24409], "nice": false, "zero": false}, "axis": null}, "text": {"field": "obs_label"}}},
{"data": {"name": "ann"}, "transform": [{"filter": "datum.panel === 'S2W14'"}],
"mark": {"type": "text", "align": "center", "fontSize": 34, "color": "#111111"},
"encoding": {"x": {"field": "p_x", "type": "quantitative", "scale": {"domain": [-0.0055, 0.24409], "nice": false, "zero": false}, "axis": null}, "y": {"field": "p_y", "type": "quantitative", "scale": {"domain": [-1.14, 23.9], "nice": false, "zero": false}, "axis": null}, "text": {"field": "ptext"}}},
{"data": {"name": "ann"}, "transform": [{"filter": "datum.panel === 'S2W14'"}],
"mark": {"type": "rect", "fill": "#D9D5D2", "stroke": "#8a8a8a", "strokeWidth": 1.5},
"encoding": {"x": {"datum": 0.236, "type": "quantitative", "scale": {"domain": [-0.0055, 0.24409], "nice": false, "zero": false}, "axis": null}, "x2": {"datum": 0.24409}}},
{"data": {"name": "ann"}, "transform": [{"filter": "datum.panel === 'S2W14'"}],
"mark": {"type": "text", "angle": 90, "fontSize": 27, "color": "#1a1a1a"},
"encoding": {"x": {"datum": 0.24005, "type": "quantitative", "scale": {"domain": [-0.0055, 0.24409], "nice": false, "zero": false}, "axis": null}, "text": {"field": "strip"}}}
]}
]
}
],
"spacing": 212,
"config": {
"font": "Liberation Sans",
"view": {"stroke": "#7a7a7a", "strokeWidth": 1.5},
"axis": {"domain": false, "grid": true, "gridColor": "#EBEBEB", "gridWidth": 1.2, "ticks": true, "tickColor": "#333333", "tickSize": 5, "tickWidth": 1.1, "labelFont": "Liberation Sans", "labelFontSize": 21, "labelColor": "#333333", "labelPadding": 2, "labelFlush": false, "labelOverlap": false, "titleFont": "Liberation Sans", "titleColor": "#111111", "titleFontWeight": "bold"},
"title": {"font": "Liberation Sans", "fontWeight": "bold", "color": "#111111", "anchor": "start", "frame": "group"}
}
}
